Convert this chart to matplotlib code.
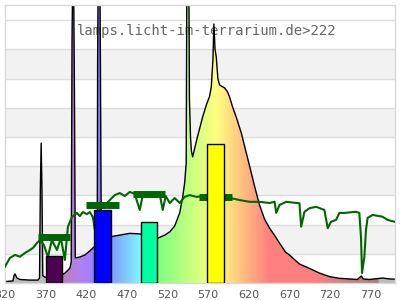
import numpy as np
import matplotlib
matplotlib.use('Agg')
import matplotlib.pyplot as plt
from matplotlib.patches import Polygon

# ---- data ----
title = "lamps.licht-im-terrarium.de>222"
xticks = [320, 370, 420, 470, 520, 570, 620, 670, 720, 770]

spec_wl = [320, 329.8, 331, 332.3, 334.7, 338.4, 350.7, 360.5, 362.5, 363.5,
           364.5, 365.5, 366.5, 369, 375.3, 387.6, 393.7, 399.9, 401.5, 402.5,
           404, 405.5, 406.5, 412.1, 418.3, 424.4, 429.3, 432, 433.5, 434,
           435, 436.5, 437.5, 438.5, 449, 461.3, 473.6, 485.8, 498.1, 506.7,
           516.6, 522.7, 528.8, 535, 538.7, 541.1, 543, 544, 546, 547,
           548.3, 549.5, 551, 555.9, 563.2, 568.2, 571.8, 573.9, 575.9, 577.1,
           578.5, 580, 582, 584.1, 590.3, 594, 596.4, 600.1, 605, 611.2,
           616.1, 621, 627.1, 633.3, 639.4, 645.6, 653, 657.8, 665.2, 670.1,
           682.4, 694.7, 707, 719.3, 731.5, 743.8, 753.6, 757.3, 758.5, 761,
           768.4, 784.4, 793, 800]
spec_val = [0.05, 0.07, 0.25, 0.31, 0.17, 0.12, 0.10, 0.10, 0.17, 3.2,
            4.79, 3.2, 0.25, 0.20, 0.20, 0.24, 0.34, 0.51, 0.72, 8.4,
            12, 6.5, 0.86, 0.89, 0.96, 1.10, 1.23, 1.30, 1.32, 7.6,
            12, 12, 7.2, 1.55, 1.58, 1.64, 1.70, 1.68, 1.61, 1.52,
            1.64, 1.75, 1.95, 2.40, 2.95, 3.42, 4.10, 12, 12, 6.3,
            5.0, 4.5, 4.32, 4.90, 5.68, 6.13, 6.39, 6.72, 7.64, 8.87,
            8.0, 7.74, 7.0, 6.78, 6.68, 6.54, 6.37, 6.03, 5.65, 5.10,
            4.55, 4.01, 3.32, 2.67, 2.19, 1.88, 1.58, 1.37, 1.06, 0.96,
            0.65, 0.50, 0.34, 0.22, 0.16, 0.14, 0.12, 0.21, 0.24, 0.14,
            0.12, 0.17, 0.14, 0.13]

sun_wl = [320, 326.1, 332.3, 338.4, 344.6, 350.7, 354.4, 359.3, 363, 367.9,
          372.8, 377.7, 383.9, 388.8, 393.7, 397.4, 402.3, 408.5, 412.1, 415.8,
          420.7, 424.4, 428.1, 430.6, 433, 442.9, 449, 455.1, 461.3, 467.4,
          473.6, 479.7, 485.8, 489.6, 498.1, 504.3, 510.4, 514.1, 517.8, 522.7,
          528.8, 535, 541.1, 547.3, 555.9, 565.7, 578, 590.3, 596.4, 602.6,
          608.7, 614.9, 621, 633.3, 645.6, 651.8, 653.8, 657.8, 666.1, 682.4,
          684.5, 688.6, 694.7, 702.9, 713.1, 717.2, 721.3, 727.5, 731.5, 737.7,
          752.1, 756.1, 758.2, 759.4, 762.3, 764.3, 766.3, 772.5, 784.7, 790.9,
          799.1]
sun_val = [0.56, 0.86, 0.96, 0.90, 1.03, 1.13, 1.20, 1.37, 1.47, 1.30,
           0.89, 1.47, 1.13, 1.54, 0.79, 1.92, 2.26, 2.40, 2.29, 2.43,
           2.36, 2.43, 2.26, 1.82, 2.43, 2.67, 2.84, 3.01, 3.08, 2.98,
           3.12, 3.05, 2.50, 3.01, 3.05, 2.95, 3.05, 2.50, 2.98, 2.74,
           2.91, 2.74, 2.95, 3.01, 2.95, 2.98, 3.01, 2.95, 2.91, 2.88,
           2.84, 2.81, 2.78, 2.78, 2.74, 2.78, 2.40, 2.67, 2.78, 2.73,
           1.93, 2.44, 2.56, 2.61, 2.50, 1.88, 2.10, 2.16, 2.40, 2.40,
           2.44, 2.40, 1.54, 0.34, 0.90, 1.82, 2.23, 2.33, 2.27, 2.16,
           2.10]

bar_centers = [380, 440, 497, 579]
bar_heights = [0.92, 2.50, 2.09, 4.76]
bar_colors = ['#4b0050', '#0000ff', '#00ffa0', '#ffff00']
band_heights = [1.565, 2.66, 3.06, 2.95]


def wl_rgb(w):
    if w < 380 or w > 780:
        return (0.74, 0.74, 0.74)
    if w < 440:
        r, g, b = -(w - 440) / 60, 0.0, 1.0
    elif w < 490:
        r, g, b = 0.0, (w - 440) / 50, 1.0
    elif w < 510:
        r, g, b = 0.0, 1.0, -(w - 510) / 20
    elif w < 580:
        r, g, b = (w - 510) / 70, 1.0, 0.0
    elif w < 645:
        r, g, b = 1.0, -(w - 645) / 65, 0.0
    else:
        r, g, b = 1.0, 0.0, 0.0
    if w < 420:
        f = 0.3 + 0.7 * (w - 380) / 40
    elif w > 700:
        f = 0.3 + 0.7 * (780 - w) / 80
    else:
        f = 1.0
    return tuple(0.5 + 0.5 * c * f for c in (r, g, b))


fig = plt.figure(figsize=(4, 3), dpi=100)
ax = fig.add_axes([5 / 400, 17 / 300, 390 / 400, 278 / 300])
XMIN, XMAX, YMAX = 320, 800, 9.52

for i in range(1, 9, 2):
    ax.axhspan(i, i + 1, color='#f2f2f2', lw=0, zorder=0)
for i in range(1, 10):
    ax.axhline(i, color='#dddddd', lw=1, zorder=0.5)

xs = np.linspace(XMIN, XMAX, 961)
img = np.array([wl_rgb(x) for x in xs])[None, :, :]
im = ax.imshow(img, extent=[XMIN, XMAX, 0, YMAX], aspect='auto',
               origin='lower', zorder=1, interpolation='bilinear')
poly = Polygon(np.column_stack([[spec_wl[0]] + spec_wl + [spec_wl[-1]],
                                [0] + spec_val + [0]]),
               closed=True, facecolor='none', edgecolor='none',
               transform=ax.transData)
ax.add_patch(poly)
im.set_clip_path(poly)

ax.plot(spec_wl, spec_val, color='black', lw=1.0, zorder=2)
ax.plot(sun_wl, sun_val, color='#006600', lw=1.5, zorder=3)
ax.hlines(band_heights, [c - 20 for c in bar_centers],
          [c + 20 for c in bar_centers], color='#006600', lw=5, zorder=4)
ax.bar(bar_centers, bar_heights, width=20, color=bar_colors,
       edgecolor='black', lw=1, zorder=5)

ax.set_xlim(XMIN, XMAX)
ax.set_ylim(0, YMAX)
ax.set_xticks(xticks)
ax.set_yticks([])
ax.tick_params(axis='x', length=0, labelsize=8, labelcolor='#555555', pad=5)
for s in ax.spines.values():
    s.set_color('#d8d8d8')
    s.set_linewidth(1)

ax.text(77 / 400, 1 - 31 / 300, title, transform=fig.transFigure,
        family='DejaVu Sans Mono', fontsize=10, color='#666666',
        ha='left', va='center', zorder=1.5)

fig.savefig('out.png', dpi=100)
